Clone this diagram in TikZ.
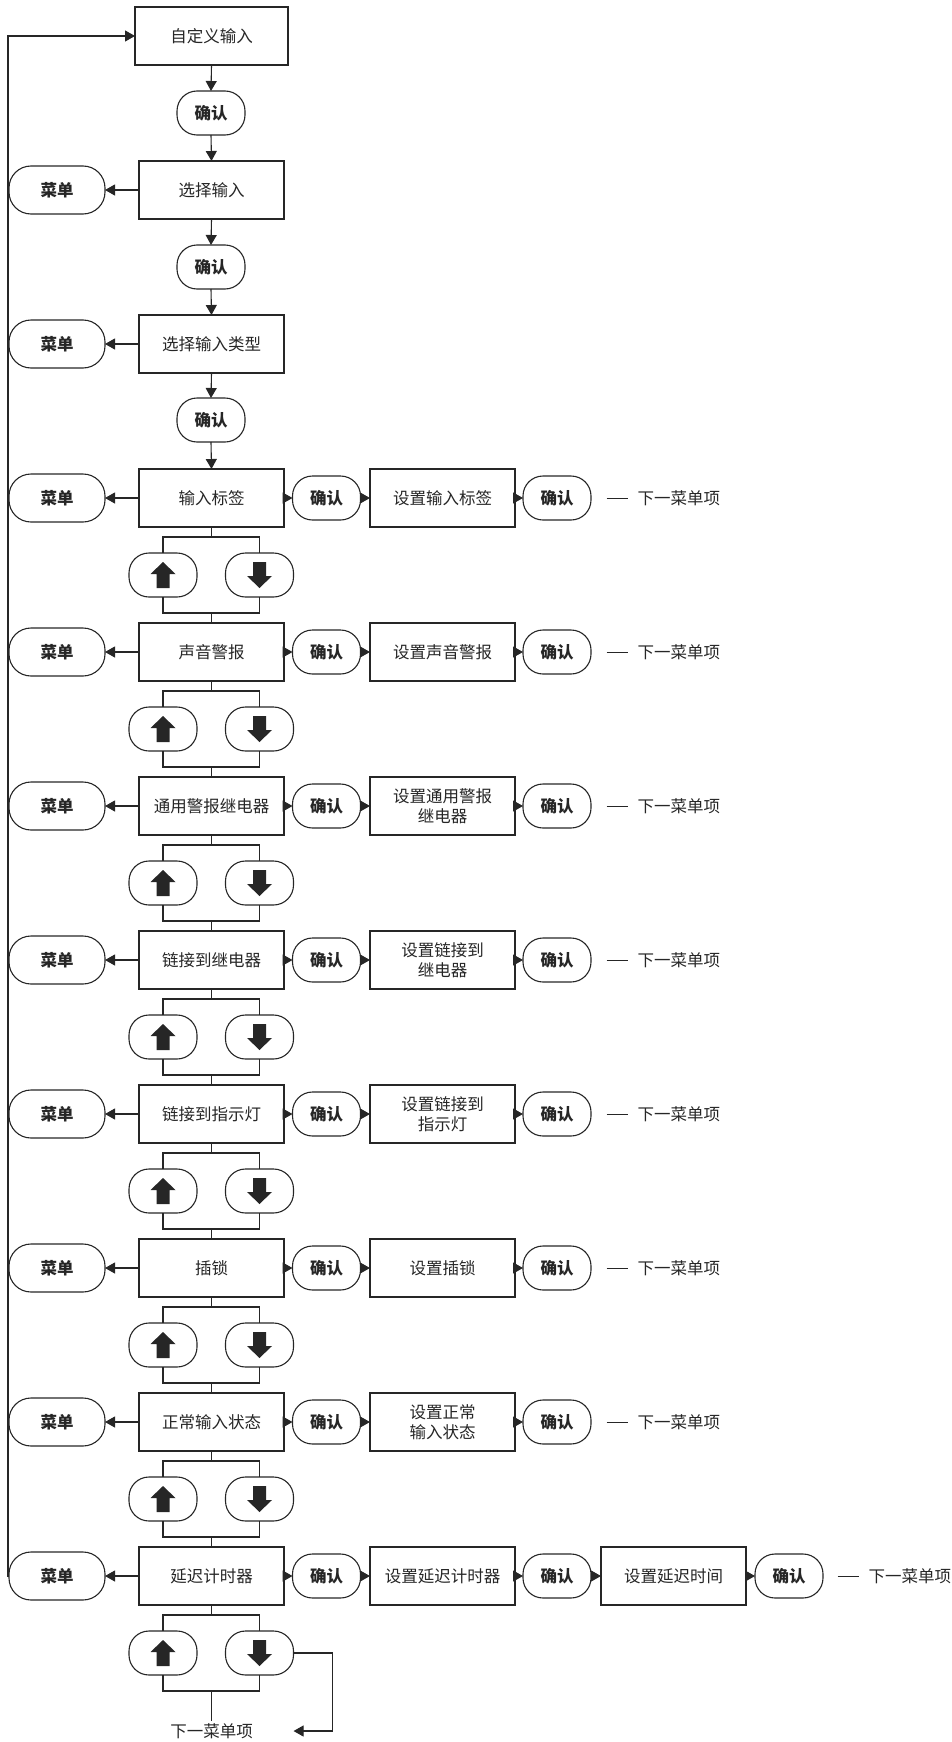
\documentclass[tikz,border=0pt]{standalone}
\usepackage{fontspec}
\setmainfont{Noto Sans CJK SC}
\usepackage{tikz}
\usetikzlibrary{arrows.meta}
\newcommand*\labelfont{\fontsize{16.5pt}{20pt}\selectfont}
\newcommand*\rowpitch{154}
\newcommand*\nextitem{\rule[0.32em]{21pt}{1pt}\hspace{10pt}下一菜单项}
\tikzset{
    itembox/.style = {draw, minimum width=145pt, minimum height=58pt,
                      inner sep=0pt, outer sep=0pt, align=center},
    okcell/.style  = {draw, rounded corners=20pt, minimum width=68pt, minimum height=44pt,
                      inner sep=0pt, outer sep=0pt, font=\labelfont\bfseries},
    menucell/.style= {okcell, minimum width=96pt, minimum height=48pt, rounded corners=22pt},
    upcell/.style  = {okcell, path picture={
        \fill[sharp corners] ([yshift=13pt]path picture bounding box.center)
            -- ++(12.5pt,-12pt) -- ++(-6pt,0pt) -- ++(0pt,-14pt) -- ++(-13pt,0pt)
            -- ++(0pt,14pt) -- ++(-6pt,0pt) -- cycle;}},
    downcell/.style= {okcell, path picture={
        \fill[sharp corners] ([yshift=-13pt]path picture bounding box.center)
            -- ++(12.5pt,12pt) -- ++(-6pt,0pt) -- ++(0pt,14pt) -- ++(-13pt,0pt)
            -- ++(0pt,-14pt) -- ++(-6pt,0pt) -- cycle;}},
    nexttext/.style= {inner sep=0pt, anchor=west},
    arr/.style     = {-{Triangle[length=10pt,width=11pt]}},
}
\begin{document}
\begin{tikzpicture}[x=1pt, y=-1pt, line width=1.1pt, color=black!85, font=\labelfont]
      \useasboundingbox (0,0) rectangle (952,1742);

      % Top chain: custom input and the two selections
      \node[itembox, minimum width=153pt] (C0) at (211.5,36) {自定义输入};
      \node[okcell] (Ka) at (211,113) {确认};
      \node[itembox] (P1) at (211.5,190) {选择输入};
      \node[menucell] (MP1) at (57,190) {菜单};
      \node[okcell] (Kb) at (211,267) {确认};
      \node[itembox] (P2) at (211.5,344) {选择输入类型};
      \node[menucell] (MP2) at (57,344) {菜单};
      \node[okcell] (Kc) at (211,420) {确认};

      % Menu rows
      \foreach \name/\setname [count=\i] in {输入标签/设置输入标签, 声音警报/设置声音警报,
          通用警报继电器/{设置通用警报\\继电器}, 链接到继电器/{设置链接到\\继电器},
          链接到指示灯/{设置链接到\\指示灯}, 插锁/设置插锁,
          正常输入状态/{设置正常\\输入状态}, 延迟计时器/设置延迟计时器} {
        \pgfmathsetmacro\y{498+\rowpitch*(\i-1)}
        \node[itembox] (B\i) at (211.5,\y) {\name};
        \node[menucell] (M\i) at (57,\y) {菜单};
        \node[okcell] (K\i) at (326.5,\y) {确认};
        \node[itembox] (S\i) at (442.5,\y) {\setname};
        \node[okcell] (L\i) at (557,\y) {确认};
        \node[upcell] (U\i) at (163,\y+77) {};
        \node[downcell] (D\i) at (259.5,\y+77) {};
        \coordinate (T\i) at (211.5,\y+39);
        \coordinate (J\i) at (211.5,\y+115);
        \ifnum\i<8
          \node[nexttext] (N\i) at (606,\y) {\nextitem};
        \fi
        \draw[arr] (B\i.west) -- (M\i.east);
        \draw[arr] (B\i.east) -- (K\i.west);
        \draw[arr] (K\i.east) -- (S\i.west);
        \draw[arr] (S\i.east) -- (L\i.west);
        \draw (B\i.south) -- (T\i);
        \draw (U\i.north) |- (T\i) -| (D\i.north);
        \draw (U\i.south) |- (J\i) -| (D\i.south);
      }

      % Last row goes one step further
      \node[itembox] (S9) at (673.5,1576) {设置延迟时间};
      \node[okcell] (L9) at (789,1576) {确认};
      \node[nexttext] (N9) at (837,1576) {\nextitem};
      \node[inner sep=2pt, minimum width=163pt] (NX) at (211.5,1731) {下一菜单项};
      \draw[arr] (L8.east) -- (S9.west);
      \draw[arr] (S9.east) -- (L9.west);

      % Vertical links
      \foreach \a/\b in {C0/Ka, Ka/P1, P1/Kb, Kb/P2, P2/Kc, Kc/B1} {
        \draw[arr] (\a.south) -- (\b.north);
      }
      \foreach \i [count=\j from 2] in {1,...,7} {
        \draw (J\i) -- (B\j.north);
      }
      \draw[arr] (P1.west) -- (MP1.east);
      \draw[arr] (P2.west) -- (MP2.east);
      \draw (J8) -- (NX.north);
      \draw[arr] (D8.east) -- ++(39,0) |- (NX.east);

      % Back to the start
      \draw[arr] (M8.west) -- ++(-1,0) |- (C0.west);
    \end{tikzpicture}
\end{document}
